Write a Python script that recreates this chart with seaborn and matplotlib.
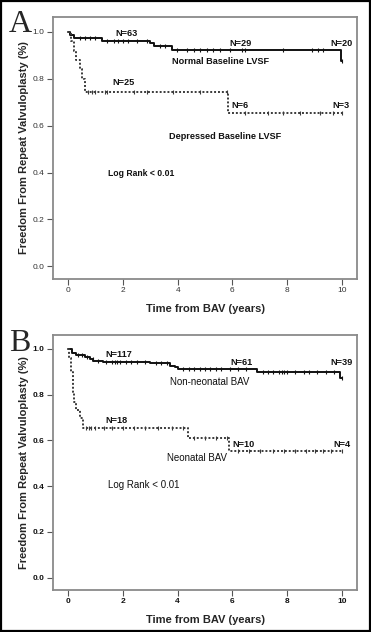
import numpy as np
import pandas as pd
import matplotlib
matplotlib.use("Agg")
import matplotlib.pyplot as plt
import seaborn as sns
from matplotlib.patches import Rectangle

# panel A - Kaplan-Meier step points (time in years, freedom from repeat BAV)
a_norm_t = [0, 0.08, 0.2, 1.23, 3.0, 3.15, 3.78, 9.95, 10.0]
a_norm_s = [1.0, 0.985, 0.972, 0.961, 0.951, 0.940, 0.922, 0.876, 0.876]
a_dep_t = [0, 0.1, 0.2, 0.3, 0.45, 0.5, 0.6, 5.85, 10.0]
a_dep_s = [1.0, 0.96, 0.92, 0.88, 0.84, 0.80, 0.745, 0.655, 0.655]
a_norm_cens = [0.44, 0.62, 0.8, 0.99, 1.41, 1.66, 1.84, 2.02, 2.2, 2.5, 2.87, 3.36,
               3.54, 3.97, 4.33, 4.58, 4.82, 5.06, 5.3, 5.55, 5.91, 6.34, 6.46,
               7.86, 8.9, 9.14, 9.32, 10.0]
a_dep_cens = [0.74, 0.86, 0.99, 1.35, 1.41, 2.39, 2.87, 3.84, 4.82, 5.79, 6.46,
              7.31, 7.86, 8.46, 9.2, 9.68, 10.0]

# panel B
b_non_t = [0, 0.13, 0.3, 0.62, 0.8, 0.92, 1.29, 2.99, 3.72, 3.9, 4.03, 6.89, 9.93, 10.0]
b_non_s = [1.0, 0.984, 0.975, 0.965, 0.954, 0.947, 0.941, 0.937, 0.925, 0.92,
           0.913, 0.898, 0.871, 0.871]
b_neo_t = [0, 0.05, 0.1, 0.17, 0.22, 0.28, 0.44, 0.56, 4.39, 5.87, 10.0]
b_neo_s = [1.0, 0.96, 0.9, 0.81, 0.77, 0.735, 0.70, 0.656, 0.61, 0.553, 0.553]
b_non_cens = [0.35, 0.5, 0.7, 0.9, 1.1, 1.4, 1.6, 1.7, 1.8, 1.9, 2.1, 2.3, 2.5, 2.8,
              3.2, 3.4, 3.6, 4.2, 4.4, 4.6, 4.8, 5.0, 5.2, 5.4, 5.6, 5.9, 6.2, 6.5,
              7.1, 7.3, 7.5, 7.7, 7.8, 7.9, 8.0, 8.3, 8.6, 8.8, 9.1, 9.4, 9.7, 10.0]
b_neo_cens = [0.65, 0.75, 0.85, 1.0, 1.3, 1.6, 2.0, 2.4, 2.8, 3.3, 3.8, 4.2, 4.6,
              5.0, 5.4, 5.8, 6.2, 6.6, 7.0, 7.5, 7.9, 8.3, 8.7, 9.0, 9.3, 9.6, 10.0]

x_ticks = [0, 2, 4, 6, 8, 10]
y_ticks = [0.0, 0.2, 0.4, 0.6, 0.8, 1.0]

sns.set_style("white")
plt.rcParams['font.family'] = ['Liberation Sans', 'DejaVu Sans']


def step_value(t, s, c):
    i = np.searchsorted(t, c, side='right') - 1
    return s[i]


def km_curve(ax, t, s, cens, dotted):
    df = pd.DataFrame({'time': t, 'surv': s})
    col = '#3a3a3a' if dotted else '#111111'
    ls = (0, (1, 1)) if dotted else '-'
    sns.lineplot(data=df, x='time', y='surv', ax=ax, estimator=None, sort=False,
                 drawstyle='steps-post', color=col, linestyle=ls, lw=1.4)
    cs = [step_value(np.array(t), np.array(s), c) for c in cens]
    sns.scatterplot(x=cens, y=cs, ax=ax, marker='|', s=9, color=col, linewidth=0.8)


fig = plt.figure(figsize=(3.71, 6.32), dpi=100)
axA = fig.add_axes([0.1429, 0.5585, 0.8194, 0.4146])
axB = fig.add_axes([0.1429, 0.0665, 0.8194, 0.4035])

km_curve(axA, a_norm_t, a_norm_s, a_norm_cens, False)
km_curve(axA, a_dep_t, a_dep_s, a_dep_cens, True)
km_curve(axB, b_non_t, b_non_s, b_non_cens, False)
km_curve(axB, b_neo_t, b_neo_s, b_neo_cens, True)

tf = dict(fontsize=6.6, fontweight='bold', ha='center', va='center', color='#111111')
axA.text(2.14, 0.993, 'N=63', **tf)
axA.text(6.3, 0.951, 'N=29', **tf)
axA.text(10.0, 0.951, 'N=20', **tf)
axA.text(5.55, 0.875, 'Normal Baseline LVSF', **tf)
axA.text(2.04, 0.784, 'N=25', **tf)
axA.text(6.28, 0.684, 'N=6', **tf)
axA.text(9.95, 0.684, 'N=3', **tf)
axA.text(5.73, 0.554, 'Depressed Baseline LVSF', **tf)
axA.text(1.47, 0.395, 'Log Rank < 0.01', fontsize=6.2, fontweight='bold',
         ha='left', va='center', color='#111111')

axB.text(1.84, 0.977, 'N=117', **tf)
axB.text(6.34, 0.942, 'N=61', **tf)
axB.text(9.99, 0.942, 'N=39', **tf)
axB.text(5.18, 0.856, 'Non-neonatal BAV', fontsize=7, ha='center', va='center', color='#111111')
axB.text(1.78, 0.687, 'N=18', **tf)
axB.text(6.4, 0.583, 'N=10', **tf)
axB.text(9.99, 0.583, 'N=4', **tf)
axB.text(4.7, 0.522, 'Neonatal BAV', fontsize=7, ha='center', va='center', color='#111111')
axB.text(1.45, 0.405, 'Log Rank < 0.01', fontsize=7, ha='left', va='center', color='#111111')

for ax, ytop, bold in [(axA, 1.063, False), (axB, 1.061, True)]:
    ax.set_xlim(-0.55, 10.55)
    ax.set_ylim(-0.054, ytop)
    ax.set_xticks(x_ticks)
    ax.set_xticklabels([str(v) for v in x_ticks])
    ax.set_yticks(y_ticks)
    ax.set_yticklabels(['%.1f' % v for v in y_ticks])
    ax.tick_params(bottom=True, left=True, direction='out', length=4, width=0.8,
                   color='#555555', labelsize=6,
                   labelcolor='#333333' if not bold else '#111111', pad=2)
    if bold:
        for lab in ax.get_xticklabels() + ax.get_yticklabels():
            lab.set_fontweight('bold')
    for sp in ax.spines.values():
        sp.set_color('#8a8a8a')
        sp.set_linewidth(1.3)
    ax.set_xlabel('Time from BAV (years)', fontsize=8, fontweight='bold')
    ax.set_ylabel('Freedom From Repeat Valvuloplasty (%)', fontsize=8, fontweight='bold')
    ax.yaxis.set_label_coords(-0.079, 0.5)

axA.xaxis.set_label_coords(0.5, -0.095)
axB.xaxis.set_label_coords(0.5, -0.098)

fig.text(0.024, 1 - 10 / 632, 'A', family='Liberation Serif', fontsize=23, va='top', ha='left')
fig.text(0.024, 1 - 329 / 632, 'B', family='Liberation Serif', fontsize=23, va='top', ha='left')

fig.patches.append(Rectangle((0.002, 0.001), 0.995, 0.997, transform=fig.transFigure,
                             fill=False, edgecolor='black', linewidth=1.6))

fig.savefig('out.png', dpi=100)
plt.close()
